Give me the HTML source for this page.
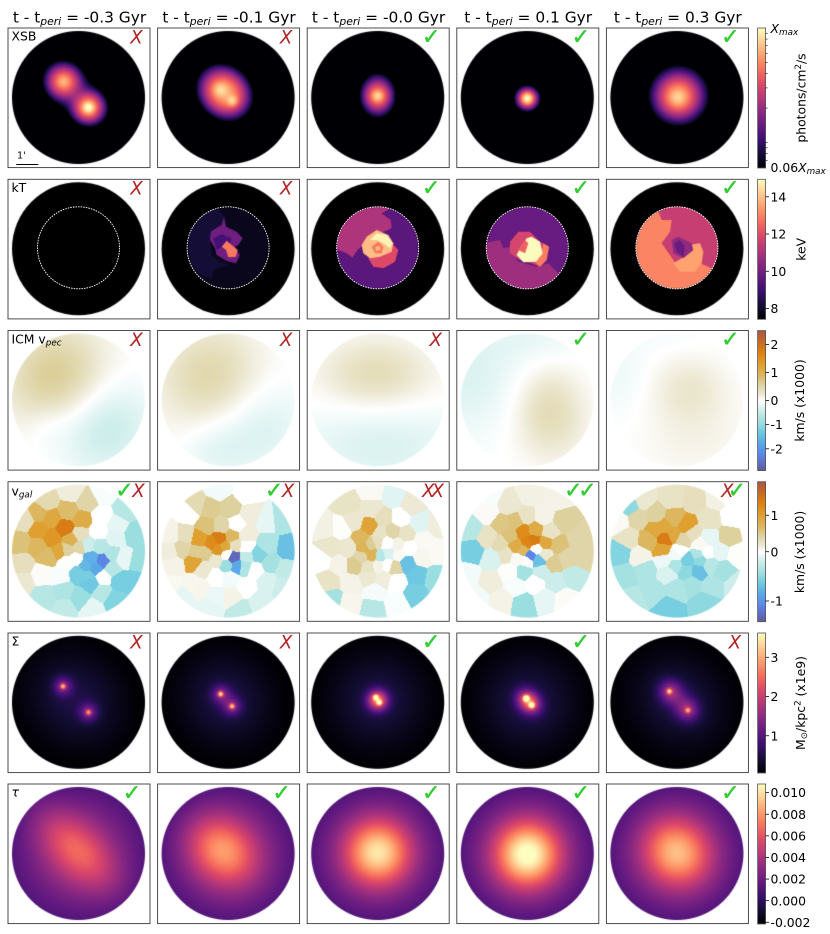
<!DOCTYPE html>
<html lang="en">
<head>
<meta charset="utf-8">
<title>Cluster merger maps by time since pericentre</title>
<style>
html,body{margin:0;padding:0;background:#fff;}
#chart{position:relative;width:830px;height:934px;overflow:hidden;background:#fff;font-family:"DejaVu Sans","Liberation Sans",sans-serif;}
#chart canvas{position:absolute;display:block;}
#overlay{position:absolute;left:0;top:0;}
#overlay text{font-family:"DejaVu Sans","Liberation Sans",sans-serif;fill:#000;}
</style>
</head>
<body>
<div id="chart">
<svg id="overlay" width="830" height="934" viewBox="0 0 830 934" xmlns="http://www.w3.org/2000/svg">
  <g font-size="15.4" text-anchor="middle">
    <text x="79.5" y="22.5">t - t<tspan font-style="italic" font-size="10.8" dy="2.3">peri</tspan><tspan dy="-2.3"> = -0.3 Gyr</tspan></text>
    <text x="229" y="22.5">t - t<tspan font-style="italic" font-size="10.8" dy="2.3">peri</tspan><tspan dy="-2.3"> = -0.1 Gyr</tspan></text>
    <text x="378.6" y="22.5">t - t<tspan font-style="italic" font-size="10.8" dy="2.3">peri</tspan><tspan dy="-2.3"> = -0.0 Gyr</tspan></text>
    <text x="528.2" y="22.5">t - t<tspan font-style="italic" font-size="10.8" dy="2.3">peri</tspan><tspan dy="-2.3"> = 0.1 Gyr</tspan></text>
    <text x="677.8" y="22.5">t - t<tspan font-style="italic" font-size="10.8" dy="2.3">peri</tspan><tspan dy="-2.3"> = 0.3 Gyr</tspan></text>
  </g>
  <g font-size="12.4">
    <text x="11.5" y="40.7">XSB</text>
    <text x="11.5" y="192">kT</text>
    <text x="11.5" y="343.6">ICM v<tspan font-style="italic" font-size="8.8" dy="2">pec</tspan></text>
    <text x="11.5" y="495.5">v<tspan font-style="italic" font-size="8.8" dy="2">gal</tspan></text>
    <text x="11.5" y="645.7">Σ</text>
    <text x="11.5" y="796.5" font-style="italic">τ</text>
  </g>
  <text x="17" y="158.5" font-size="9.6">1'</text>
  <line x1="16.3" x2="38.3" y1="164.5" y2="164.5" stroke="#000" stroke-width="1"/>
  <g font-size="12.4" text-anchor="middle">
    <text transform="translate(805.5,98) rotate(-90)">photons/cm<tspan font-size="8.7" dy="-4.5">2</tspan><tspan dy="4.5">/s</tspan></text>
    <text transform="translate(805.5,249.3) rotate(-90)">keV</text>
    <text transform="translate(804,400.5) rotate(-90)">km/s (x1000)</text>
    <text transform="translate(804,552) rotate(-90)">km/s (x1000)</text>
    <text transform="translate(805,703) rotate(-90)">M<tspan font-size="8.7" dy="2">⊙</tspan><tspan dy="-2">/kpc</tspan><tspan font-size="8.7" dy="-4.5">2</tspan><tspan dy="4.5"> (x1e9)</tspan></text>
  </g>
  <text x="770.5" y="33" font-size="12.4"><tspan font-style="italic">X</tspan><tspan font-style="italic" font-size="8.8" dy="2">max</tspan></text>
  <text x="770.5" y="172" font-size="12.4">0.06<tspan font-style="italic">X</tspan><tspan font-style="italic" font-size="8.8" dy="2">max</tspan></text>
</svg>
</div>
<script>
/* ---------- figure data ---------- */
var rowNames = ['xsb', 'kt', 'icm-vpec', 'vgal', 'sigma', 'tau'];
var columnLabels = ['t-0.3', 't-0.1', 't-0.0', 't+0.1', 't+0.3'];
var rowMarks = [
  ['X', 'X', 'C', 'C', 'C'],
  ['X', 'X', 'C', 'C', 'C'],
  ['X', 'X', 'X', 'C', 'C'],
  ['CX', 'CX', 'XX', 'CC', 'XC'],
  ['X', 'X', 'C', 'C', 'X'],
  ['C', 'C', 'C', 'C', 'C']
];

/* colorbar ticks */
var xsbTicks = [0.07, 0.08, 0.09, 0.1, 0.2, 0.3, 0.4, 0.5, 0.6, 0.7, 0.8, 0.9];
var ktTicks = [8, 10, 12, 14];
var icmTicks = [2, 1, 0, -1, -2];
var vgalTicks = [1, 0, -1];
var sigmaTicks = [1, 2, 3];
var tauTicks = [0.010, 0.008, 0.006, 0.004, 0.002, 0.000, -0.002];
var tauTickLabels = ['0.010', '0.008', '0.006', '0.004', '0.002', '0.000', '-0.002'];

/* colour ranges */
var ktRange = [7.42, 14.94];
var icmRange = [-2.9, 2.5];
var vgalRange = [-1.42, 1.92];
var sigmaRange = [0.05, 3.62];
var tauRange = [-0.00216, 0.0108];
var xsbFloor = 0.06;

/* smooth fields: [dx, dy, amplitude, sigmaA, sigmaB, angleDeg] */
var xsbBlobs = [
  [[-15,-16,0.15,4,4,0],[-15,-16,0.42,9.5,9.5,0],[10,10,0.5,3.5,3.5,0],[10,10,0.5,8.5,8.5,0],[-2,-3,0.1,26,15,45]],
  [[-8,-8,0.25,4.5,4.5,0],[4.3,3.5,0.35,3.5,3.5,0],[-3.5,-5,0.62,14.5,12.5,45]],
  [[0,-1.5,0.3,3.5,3.5,0],[0,-1.5,0.2,7,7,0],[0,-2,0.3,10,12.5,0]],
  [[0,1,0.6,3.5,3.5,0],[0,1,0.4,7,7,0]],
  [[1,0,0.2,5.5,5.5,0],[1,-1,0.3,11,11,0],[2,-2,0.28,17,17,0]]
];
var icmBlobs = [
  [[-21,-22,0.68,36,36,0],[24,25,-0.5,34,34,0],[-30,25,-0.12,16,16,0]],
  [[-17,-22,0.52,36,36,0],[30,27,-0.32,34,34,0],[-15,50,-0.18,22,22,0]],
  [[-2,-26,0.42,38,24,0],[5,47,-0.29,62,30,0]],
  [[22,8,0.38,23,28,0],[28,38,0.1,30,26,0],[-59,-25,-0.28,36,42,0],[10,-62,-0.16,36,18,0]],
  [[12,-12,0.25,25,22,0],[17,35,0.13,36,30,0],[-60,-25,-0.13,22,30,0],[-10,-62,-0.05,30,14,0]]
];
var sigmaBlobs = [
  [[-15.5,-16,1.9,1.9,1.9,0],[-15.5,-16,0.95,6.5,6.5,0],[10,10,1.7,1.9,1.9,0],[10,10,0.9,6.5,6.5,0],[-3,-3,0.5,34,30,45]],
  [[-7.5,-8.3,2.2,1.9,1.9,0],[4,4,2,1.9,1.9,0],[-7,-8,0.9,6.5,6.5,0],[4,4,0.9,6.5,6.5,0],[-2,-2,0.5,32,30,45]],
  [[-2,-5,2.1,1.9,1.9,0],[1.7,0.3,2,1.8,1.8,0],[0,-2,2.2,7,7,0],[0,-2,0.5,32,32,0]],
  [[-1.2,-4,2.7,2.1,2.1,0],[4.5,3,2.3,2,2,0],[1.5,-0.5,2.2,8.5,7,45],[1,0,0.52,32,32,0]],
  [[-7.6,-11,1.9,1.9,1.9,0],[11,8,1.6,1.9,1.9,0],[-7,-11,0.9,7.5,7.5,0],[11,8,0.85,7.5,7.5,0],[2,-2,0.5,15,9,45],[2,-1,0.48,34,30,45]]
];
var tauBlobs = [
  [[-2,-4,0.0032,36,18,45],[0,0,0.004,50,50,0]],
  [[-6,-3,0.0047,26,21,45],[0,0,0.004,50,50,0]],
  [[0,-1,0.0067,22,22,0],[0,0,0.004,50,50,0]],
  [[0,1,0.0078,22,22,0],[0,0,0.004,50,50,0]],
  [[0,-1,0.0056,24,22,45],[0,0,0.004,50,50,0]]
];
var tauBase = [-0.0005, -0.0005, -0.0005, -0.0005, -0.0005];

/* kT regions, painter's order: value (keV), outline */
var ktOrigins = [[150,175],[150,175],[150,175],[450,175],[450,175]];
var ktPanel1 = [];
var ktPanel2 = [
  [7.8,[100,90,370,90,370,350,100,350]],
  [8.17,[112,217,125,150,170,110,200,100,225,125,215,160,180,190,185,240,210,260,240,270,215,275,190,285,185,310,150,300,125,270]],
  [9.9,[222,125,228,155,260,170,278,190,265,210,255,215,270,240,258,265,230,258,200,240,195,220,180,195,182,170,205,155,215,150]],
  [9.07,[190,190,215,178,245,190,240,205,215,215,200,225]],
  [12.8,[230,197,245,210,263,225,258,245,235,247,228,225,215,215]]
];
var ktPanel3 = [
  [9.5,[550,80,820,80,820,350,550,350]],
  [11.03,[555,222,590,235,608,248,622,225,640,210,680,180,725,160,722,135,695,115,730,95,683,85,600,100,560,170]],
  [11.93,[655,250,670,275,700,280,735,260,745,225,725,205,690,225]],
  [13.9,[635,210,650,185,680,165,715,180,730,205,725,230,690,245,660,250,640,235]],
  [14.8,[660,195,680,175,710,180,728,205,720,220,700,205,680,195]],
  [12.76,[665,215,685,200,700,215,695,235,675,235]],
  [13.8,[675,215,690,212,692,225,678,228]]
];
var ktPanel4 = [
  [9.75,[100,80,370,80,370,350,100,350]],
  [10.73,[100,205,150,195,160,220,180,215,205,260,260,275,295,265,325,295,340,350,100,350]],
  [11.78,[180,200,205,170,240,170,270,200,297,215,290,255,270,275,245,265,210,255,180,235]],
  [12.9,[255,262,275,230,280,205,297,215,290,255,270,275]],
  [14.9,[210,220,230,190,245,185,270,200,278,235,258,260,220,262,200,240]],
  [12.4,[205,225,225,195,235,205,225,235]]
];
var ktPanel5 = [
  [13,[550,80,820,80,820,350,550,350]],
  [11.48,[625,110,635,135,665,135,660,170,635,205,660,240,680,270,750,265,785,280,802,250,815,200,780,120,720,90,640,90]],
  [13.5,[715,210,750,205,760,230,755,265,735,290,690,290,670,265,695,250]],
  [10.5,[665,195,685,185,725,205,730,225,700,250,670,235]],
  [9.75,[672,205,690,195,705,215,700,245,680,230]]
];
var ktRegions = [ktPanel1, ktPanel2, ktPanel3, ktPanel4, ktPanel5];

/* galaxy velocity cells: x, y, value (x1000 km/s) */
var vgalOrigins = [[0,475],[0,475],[300,475],[300,475],[600,475]];
var vgalPanel1 = [
  [215,50,.15],[140,80,.35],[260,80,.4],[310,55,-.03],[375,105,-.3],[115,115,.7],[205,110,.65],[155,130,.9],[245,135,.85],
  [120,165,1],[195,158,1.4],[155,190,1.1],[75,135,.3],[60,205,.6],[115,215,.7],[145,245,.65],[175,230,.9],[215,195,.8],
  [240,178,.3],[205,225,.45],[235,217,.4],[65,265,.3],[65,320,.2],[130,297,.03],[180,305,-.03],[200,262,.02],[225,250,0],
  [305,125,0],[295,170,0],[350,150,-.1],[345,190,-.12],[405,180,-.45],[415,260,-.45],[370,250,-.1],[335,237,-.35],[265,210,-.2],
  [300,215,-.3],[275,250,-.8],[308,258,-1.1],[285,280,-.85],[260,275,-.75],[335,280,-.3],[235,295,-.6],[265,300,-.6],[275,325,-.65],
  [308,308,.01],[360,318,-.6],[405,318,-.6],[345,375,-.55],[305,350,-.3],[240,370,-.45],[190,345,-.35],[135,365,-.3],[195,400,-.25],[275,400,-.1]
];
var vgalPanel2 = [
  [655,45,-.05],[590,90,.35],[740,55,0],[630,100,.5],[690,100,.45],[565,115,0],[750,120,.15],[800,140,-.1],[845,135,-.35],
  [555,180,.3],[620,155,.6],[665,155,.4],[710,148,0],[740,180,.15],[800,210,-.35],[865,220,-.7],[515,180,.1],[510,230,.15],
  [545,220,.4],[600,190,1],[635,205,1.2],[660,190,1.4],[695,185,.7],[675,215,.9],[655,225,1.1],[705,210,.3],[740,215,0],
  [590,235,.5],[615,235,.5],[650,255,.2],[585,260,.95],[610,280,.2],[520,270,.1],[510,330,.06],[680,238,0],[700,248,-1.3],
  [710,272,-.85],[680,270,-.45],[735,275,-.35],[740,245,-.25],[775,237,-.55],[810,265,-.4],[855,285,-.25],[765,285,0],[650,305,0],
  [690,310,-.05],[740,335,0],[800,320,-.15],[850,335,-.2],[600,340,.08],[650,365,-.08],[695,365,.1],[720,405,-.25],[780,380,-.15],
  [630,395,-.1],[550,365,-.1],[580,330,.07]
];
var vgalPanel3 = [
  [215,50,.05],[280,65,-.12],[145,90,.25],[215,100,.2],[335,90,.18],[360,145,-.12],[410,150,.15],[75,160,.12],[125,160,.02],
  [160,140,.2],[250,130,.3],[300,130,0],[210,155,.95],[185,190,.7],[240,175,.25],[278,170,.4],[318,178,.25],[90,215,.22],
  [145,220,.2],[190,218,.75],[212,208,.5],[232,200,.3],[215,240,.75],[185,245,.4],[262,205,0],[295,210,.1],[325,220,0],
  [370,195,.05],[405,230,.05],[60,255,0],[165,270,.5],[120,270,.1],[205,275,.25],[235,272,.1],[262,268,0],[285,275,.4],
  [241,244,-.3],[265,237,-.15],[295,240,.05],[365,245,.07],[320,265,-.7],[350,300,-.65],[405,310,-.45],[85,320,.25],[155,325,.1],
  [205,305,.2],[250,310,.15],[290,320,0],[225,350,-.04],[345,355,-.6],[150,385,.08],[95,372,-.4],[218,400,-.3],[290,385,-.02]
];
var vgalPanel4 = [
  [690,60,.12],[770,70,.1],[630,90,.2],[560,110,.04],[510,160,-.3],[565,60,-.03],[520,230,-.6],[575,250,-.15],[505,300,-.05],
  [680,125,.25],[730,125,.1],[790,140,.45],[610,150,.55],[647,140,.6],[670,170,1.2],[705,165,.85],[750,170,.25],[835,190,.4],
  [565,190,.25],[630,180,.6],[600,205,.35],[650,215,.85],[700,197,1.4],[683,203,1.3],[737,205,.9],[773,210,.6],[850,245,.4],
  [800,250,.4],[620,240,.25],[670,225,.7],[708,222,0],[735,237,.2],[760,265,.5],[692,242,-1.1],[716,255,-.7],[650,250,.05],
  [680,258,.03],[630,290,.02],[670,290,-.4],[725,290,-.2],[820,305,-.25],[765,320,-.2],[570,320,.15],[650,335,-.03],[705,325,0],
  [605,375,.1],[670,385,-.45],[735,370,-.1],[795,375,.03],[530,365,-.05]
];
var vgalPanel5 = [
  [215,70,.25],[130,75,.2],[285,75,.3],[350,70,.12],[115,130,.4],[168,118,.45],[220,130,.7],[260,155,1],[330,135,.25],
  [395,125,0],[85,190,.25],[55,140,.05],[145,195,.7],[168,165,.9],[195,155,.9],[195,190,1.4],[220,180,.9],[190,225,.95],
  [250,195,.4],[275,175,.3],[300,210,.05],[385,185,.45],[320,232,0],[330,190,-.1],[360,230,-.1],[410,240,.02],[60,235,-.55],
  [120,245,.1],[195,255,-.08],[225,240,-.05],[240,228,0],[265,255,-.6],[295,240,-.35],[300,255,-.5],[295,290,-.7],[330,270,-.3],
  [260,290,-.5],[225,272,-.35],[205,295,-.15],[370,285,-.4],[410,330,-.2],[75,300,-.4],[135,285,-.35],[160,350,-.35],[230,340,-.35],
  [275,325,-.4],[335,330,-.35],[100,375,-.3],[205,400,-.6],[315,385,-.5],[90,92,-.5]
];
var vgalPanels = [vgalPanel1, vgalPanel2, vgalPanel3, vgalPanel4, vgalPanel5];

/* ---------- colour maps ---------- */
var magmaStops = [[0,0,0,4],[.1,20,14,54],[.2,59,15,112],[.3,100,26,128],[.4,140,41,129],[.5,183,55,121],[.6,222,73,104],[.7,247,112,92],[.8,254,159,109],[.9,254,207,146],[1,252,253,191]];
var divergeStops = [[0,92,90,152],[.05,95,107,192],[.12,90,136,232],[.2,90,168,232],[.28,112,204,224],[.35,160,224,224],[.42,197,235,232],[.5,255,255,255],[.55,236,232,210],[.62,220,208,156],[.68,220,184,96],[.76,223,160,48],[.85,221,128,16],[1,174,85,63]];
function colorAt(stops, t) {
  t = Math.max(0, Math.min(1, t));
  for (var i = 1; i < stops.length; i++) {
    if (t <= stops[i][0]) {
      var a = stops[i - 1], b = stops[i], f = (t - a[0]) / (b[0] - a[0]);
      return [a[1] + (b[1] - a[1]) * f, a[2] + (b[2] - a[2]) * f, a[3] + (b[3] - a[3]) * f];
    }
  }
  return stops[stops.length - 1].slice(1);
}
function rgbCss(c) { return 'rgb(' + Math.round(c[0]) + ',' + Math.round(c[1]) + ',' + Math.round(c[2]) + ')'; }

/* ---------- norms (axis functions) ---------- */
function linNorm(r) { return function (v) { return (v - r[0]) / (r[1] - r[0]); }; }
function twoSlope(r) { return function (v) { return v >= 0 ? 0.5 + 0.5 * v / r[1] : 0.5 + 0.5 * v / (-r[0]); }; }
function logNorm(v) { return v <= xsbFloor ? 0 : Math.log(v / xsbFloor) / Math.log(1 / xsbFloor); }
var norms = [logNorm, linNorm(ktRange), twoSlope(icmRange), twoSlope(vgalRange), linNorm(sigmaRange), linNorm(tauRange)];
var maps = [magmaStops, magmaStops, divergeStops, divergeStops, magmaStops, magmaStops];

/* ---------- layout ---------- */
var frameLeft = [8, 157.6, 307.2, 456.8, 606.4];
var rowTop = [28, 179.3, 330.5, 481.7, 633, 784];
var frameW = 142, frameH = 139.6;
var cxBase = 78.5, colStep = 149.6, cyBase = 97.5, rowStep = 151.2, R = 66.5;
var chart = document.getElementById('chart');
var overlay = document.getElementById('overlay');
var NS = 'http://www.w3.org/2000/svg';

function newCanvas(x, y, w, h) {
  var c = document.createElement('canvas');
  c.width = w; c.height = h;
  c.style.left = x + 'px'; c.style.top = y + 'px';
  c.style.width = w + 'px'; c.style.height = h + 'px';
  chart.insertBefore(c, overlay);
  return c;
}
function blobSum(blobs, dx, dy) {
  var s = 0;
  for (var i = 0; i < blobs.length; i++) {
    var b = blobs[i], a = b[5] * Math.PI / 180, x = dx - b[0], y = dy - b[1];
    var u = x * Math.cos(a) + y * Math.sin(a), w = -x * Math.sin(a) + y * Math.cos(a);
    s += b[2] * Math.exp(-(u * u) / (2 * b[3] * b[3]) - (w * w) / (2 * b[4] * b[4]));
  }
  return s;
}
function paintField(canvas, cx, cy, ox, oy, valueFn, norm, map) {
  var ctx = canvas.getContext('2d');
  var img = ctx.createImageData(canvas.width, canvas.height);
  var p = 0;
  for (var j = 0; j < canvas.height; j++) {
    for (var i = 0; i < canvas.width; i++, p += 4) {
      var dx = ox + i + 0.5 - cx, dy = oy + j + 0.5 - cy, d = Math.sqrt(dx * dx + dy * dy);
      var alpha = Math.max(0, Math.min(1, R - d + 0.5));
      if (alpha <= 0) continue;
      var col = colorAt(map, norm(valueFn(dx, dy)));
      img.data[p] = col[0]; img.data[p + 1] = col[1]; img.data[p + 2] = col[2]; img.data[p + 3] = alpha * 255;
    }
  }
  ctx.putImageData(img, 0, 0);
}
function nearestCell(cells, origin, cx, cy) {
  var pts = cells.map(function (c) { return [origin[0] + c[0] / 3 - cx, origin[1] + c[1] / 3 - cy, c[2]]; });
  return function (dx, dy) {
    var best = 1e9, val = 0;
    for (var k = 0; k < pts.length; k++) {
      var ex = dx - pts[k][0], ey = dy - pts[k][1], e = ex * ex + ey * ey;
      if (e < best) { best = e; val = pts[k][2]; }
    }
    return val;
  };
}
function paintKt(canvas, c, cx, cy, ox, oy) {
  var ctx = canvas.getContext('2d');
  ctx.fillStyle = '#000';
  ctx.beginPath(); ctx.arc(cx - ox, cy - oy, R, 0, 2 * Math.PI); ctx.fill();
  ctx.save();
  ctx.beginPath(); ctx.arc(cx - ox, cy - 0.9 - oy, 41, 0, 2 * Math.PI); ctx.clip();
  var regions = ktRegions[c];
  for (var i = 0; i < regions.length; i++) {
    var pts = regions[i][1];
    ctx.fillStyle = rgbCss(colorAt(magmaStops, norms[1](regions[i][0])));
    ctx.beginPath();
    for (var k = 0; k < pts.length; k += 2) {
      var px = ktOrigins[c][0] + pts[k] / 3 - ox, py = ktOrigins[c][1] + pts[k + 1] / 3 - oy;
      if (k === 0) ctx.moveTo(px, py); else ctx.lineTo(px, py);
    }
    ctx.closePath(); ctx.fill();
  }
  ctx.restore();
}

/* ---------- panels ---------- */
for (var r = 0; r < 6; r++) {
  for (var c = 0; c < 5; c++) {
    (function (r, c) {
      var cx = cxBase + colStep * c, cy = cyBase + rowStep * r;
      var ox = Math.floor(cx - 68), oy = Math.floor(cy - 68);
      var cv = newCanvas(ox, oy, 136, 136);
      
      
      if (r === 0) paintField(cv, cx, cy, ox, oy, function (x, y) { return blobSum(xsbBlobs[c], x, y); }, norms[0], maps[0]);
      if (r === 1) paintKt(cv, c, cx, cy, ox, oy);
      if (r === 2) paintField(cv, cx, cy, ox, oy, function (x, y) { return blobSum(icmBlobs[c], x, y); }, norms[2], maps[2]);
      if (r === 3) paintField(cv, cx, cy, ox, oy, nearestCell(vgalPanels[c], vgalOrigins[c], cx, cy), norms[3], maps[3]);
      if (r === 4) paintField(cv, cx, cy, ox, oy, function (x, y) { return blobSum(sigmaBlobs[c], x, y); }, norms[4], maps[4]);
      if (r === 5) paintField(cv, cx, cy, ox, oy, function (x, y) { return tauBase[c] + blobSum(tauBlobs[c], x, y); }, norms[5], maps[5]);

      var frame = document.createElementNS(NS, 'rect');
      frame.setAttribute('x', frameLeft[c]);
      frame.setAttribute('y', rowTop[r]);
      frame.setAttribute('width', frameW);
      frame.setAttribute('height', frameH);
      frame.setAttribute('fill', 'none');
      frame.setAttribute('stroke', '#3a3a3a');
      frame.setAttribute('stroke-width', '0.9');
      
      
      overlay.appendChild(frame);

      if (r === 1) {
        var ring = document.createElementNS(NS, 'circle');
        ring.setAttribute('cx', cx);
        ring.setAttribute('cy', cy - 0.9);
        ring.setAttribute('r', 41);
        ring.setAttribute('fill', 'none');
        ring.setAttribute('stroke', '#fff');
        ring.setAttribute('stroke-width', '0.9');
        ring.setAttribute('stroke-dasharray', '1.6 1');
        
        
        overlay.appendChild(ring);
      }

      var marks = rowMarks[r][c];
      for (var m = 0; m < marks.length; m++) {
        var isCheck = marks[m] === 'C';
        var offset;
        if (marks.length === 2) offset = (marks[0] === 'C') ? [116.5, 130.5][m] : [121, 130.5][m];
        else offset = isCheck ? 124 : 128.5;
        var t = document.createElementNS(NS, 'text');
        t.setAttribute('x', frameLeft[c] + offset);
        t.setAttribute('y', rowTop[r] + (isCheck ? 15.8 : 15.3));
        t.setAttribute('text-anchor', 'middle');
        t.setAttribute('font-size', isCheck ? '22' : '18.2');
        if (!isCheck) t.setAttribute('font-style', 'italic');
        t.style.fill = isCheck ? '#32cd32' : '#b22222';
        if (isCheck) t.style.stroke = '#32cd32';
        if (isCheck) t.style.strokeWidth = '0.4';
        t.textContent = isCheck ? '\u2713' : 'X';
        
        
        overlay.appendChild(t);
      }
    })(r, c);
  }
}

/* ---------- colorbars ---------- */
var cbX = 757.6, cbW = 8, cbH = 140;
var cbTicks = [xsbTicks, ktTicks, icmTicks, vgalTicks, sigmaTicks, tauTicks];
var cbLabels = [null, ktTicks.map(String), icmTicks.map(String), vgalTicks.map(String), sigmaTicks.map(String), tauTickLabels];
for (var b = 0; b < 6; b++) {
  var bar = newCanvas(Math.round(cbX), Math.round(rowTop[b]), cbW, cbH);
  
  
  var bctx = bar.getContext('2d');
  for (var y = 0; y < cbH; y++) {
    bctx.fillStyle = rgbCss(colorAt(maps[b], 1 - (y + 0.5) / cbH));
    bctx.fillRect(0, y, cbW, 1);
  }
  var outline = document.createElementNS(NS, 'rect');
  outline.setAttribute('x', cbX);
  outline.setAttribute('y', rowTop[b]);
  outline.setAttribute('width', cbW);
  outline.setAttribute('height', cbH);
  outline.setAttribute('fill', 'none');
  outline.setAttribute('stroke', '#555');
  outline.setAttribute('stroke-width', '0.8');
  
  
  overlay.appendChild(outline);
  for (var k = 0; k < cbTicks[b].length; k++) {
    var yy = rowTop[b] + (1 - norms[b](cbTicks[b][k])) * cbH;
    var isMinor = b === 0;
    var tick = document.createElementNS(NS, 'line');
    tick.setAttribute('x1', cbX + cbW);
    tick.setAttribute('x2', cbX + cbW + (isMinor ? 2 : 3.4));
    tick.setAttribute('y1', yy);
    tick.setAttribute('y2', yy);
    tick.setAttribute('stroke', '#000');
    tick.setAttribute('stroke-width', isMinor ? '0.6' : '0.8');
    
    
    overlay.appendChild(tick);
    if (cbLabels[b]) {
      var lab = document.createElementNS(NS, 'text');
      lab.setAttribute('x', 770.5);
      lab.setAttribute('y', yy + 4.6);
      lab.setAttribute('font-size', '12.4');
      lab.textContent = cbLabels[b][k];
      
      
      overlay.appendChild(lab);
    }
  }
}
</script>
</body>
</html>
